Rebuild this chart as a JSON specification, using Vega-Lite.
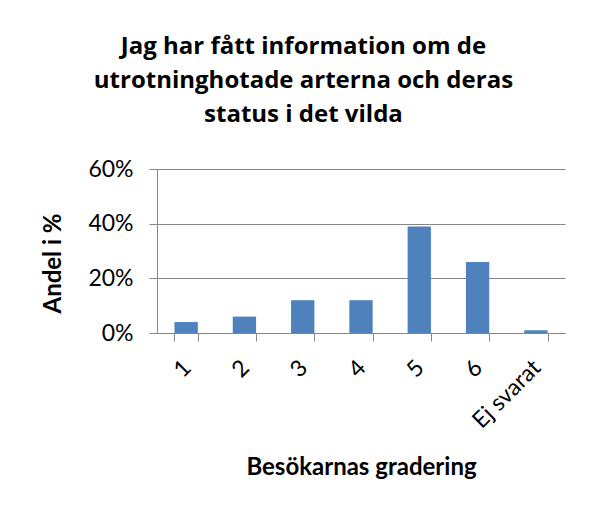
{
  "$schema": "https://vega.github.io/schema/vega-lite/v6.json",
  "width": 408,
  "height": 164,
  "autosize": {"type": "none"},
  "padding": {"left": 157, "top": 169, "right": 27, "bottom": 175},
  "background": "white",
  "title": {
    "text": ["Jag har fått information om de", "utrotninghotade arterna och deras", "status i det vilda"],
    "font": "Open Sans",
    "fontSize": 24,
    "fontWeight": "bold",
    "color": "black",
    "anchor": "middle",
    "frame": "bounds",
    "lineHeight": 34,
    "offset": 31
  },
  "data": {
    "values": [
      {"grade": "1", "share": 0.04},
      {"grade": "2", "share": 0.06},
      {"grade": "3", "share": 0.12},
      {"grade": "4", "share": 0.12},
      {"grade": "5", "share": 0.39},
      {"grade": "6", "share": 0.26},
      {"grade": "Ej svarat", "share": 0.01}
    ]
  },
  "mark": {"type": "bar", "color": "#4F81BD"},
  "encoding": {
    "x": {
      "field": "grade",
      "type": "nominal",
      "sort": null,
      "scale": {"paddingInner": 0.6, "paddingOuter": 0.3},
      "axis": {
        "title": "Besökarnas gradering",
        "labelAngle": -45,
        "tickBand": "extent",
        "grid": false,
        "ticks": true,
        "tickSize": 8,
        "labelPadding": 15,
        "labelOffset": -7,
        "titlePadding": 23
      }
    },
    "y": {
      "field": "share",
      "type": "quantitative",
      "scale": {"domain": [0, 0.6], "nice": false},
      "axis": {
        "title": "Andel i %",
        "format": ".0%",
        "values": [0, 0.2, 0.4, 0.6],
        "tickSize": 8,
        "labelPadding": 16,
        "titlePadding": 22,
        "titleY": 94,
        "grid": true
      }
    }
  },
  "config": {
    "view": {"stroke": null},
    "axis": {
      "labelFont": "Lato",
      "labelFontSize": 23,
      "labelColor": "black",
      "titleFont": "Lato",
      "titleFontSize": 24,
      "titleFontWeight": "bold",
      "titleColor": "black",
      "domainColor": "#868686",
      "tickColor": "#868686",
      "gridColor": "#868686",
      "domainWidth": 1,
      "tickWidth": 1,
      "gridWidth": 1
    }
  }
}
